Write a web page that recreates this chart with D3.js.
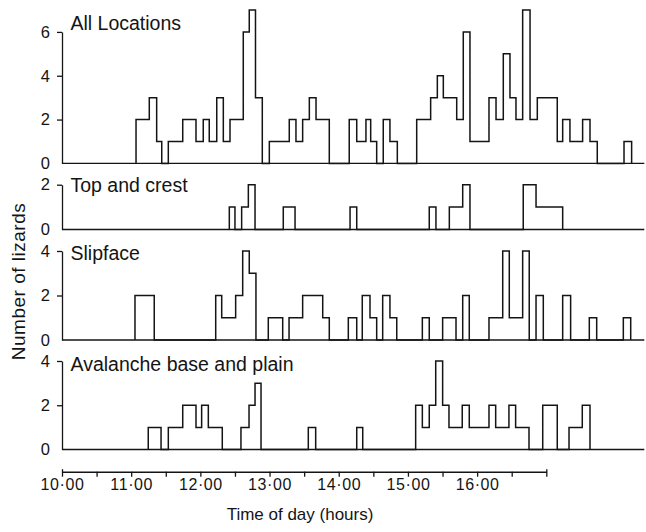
<!DOCTYPE html>
<html>
<head>
<meta charset="utf-8">
<script src="https://cdn.jsdelivr.net/npm/d3@7"></script>
<style>
  html, body { margin: 0; padding: 0; background: #fff; }
  svg { display: block; font-family: "Liberation Sans", Arial, sans-serif; }
</style>
</head>
<body>
<svg id="chart" width="646" height="532"></svg>
<script>
// Each series is a step histogram: time (minutes after 10:00) at which a step starts,
// and the number of lizards counted from that time until the next step.
const allTimes = [64.2, 75.7, 82.1, 86.5, 92.2, 104.7, 116.2, 122.5, 127.7, 134.2, 139.9, 145.7,
  157.2, 162.4, 167.8, 173.7, 179.8, 197.1, 202.9, 208.7, 214.5, 220.3, 231.8, 249.1, 255.6,
  263.6, 267.7, 272.9, 278.6, 284.4, 290.8, 307.6, 319.7, 325.5, 330.7, 342.3, 348.0, 353.8,
  370.3, 376.4, 382.7, 388.5, 393.7, 399.5, 405.9, 412.2, 429.5, 434.2, 440.5, 451.5, 457.9,
  464.2, 487.4, 494.0];
const allCounts = [2, 3, 1, 0, 1, 2, 1, 2, 1, 3, 1, 2,
  6, 7, 3, 0, 1, 2, 1, 2, 3, 2, 0, 2, 1,
  2, 1, 0, 2, 1, 0, 2, 3, 4, 3, 2, 6, 1,
  3, 2, 5, 3, 2, 7, 2, 3, 1, 2, 1, 2, 1,
  0, 1, 0];

const crestTimes = [145.1, 150.0, 155.8, 161.6, 167.4, 191.9, 202.1, 249.8, 255.6, 318.5, 324.3,
  335.9, 347.5, 353.8, 400.0, 411.1, 434.2];
const crestCounts = [1, 0, 1, 2, 0, 1, 0, 1, 0, 1, 0, 1, 2, 0, 2, 1, 0];

const slipTimes = [63.3, 80.0, 133.3, 138.5, 150.6, 156.7, 162.4, 168.2, 178.9, 191.4, 196.9,
  208.7, 226.1, 231.8, 248.3, 255.6, 260.4, 267.1, 272.9, 278.1, 284.4, 290.3, 312.5, 318.5,
  330.1, 341.7, 347.5, 353.2, 370.3, 382.2, 387.9, 399.5, 405.2, 411.1, 417.4, 434.2, 441.1,
  457.3, 463.7, 486.8, 493.2];
const slipCounts = [2, 0, 2, 1, 2, 4, 3, 0, 1, 0, 1,
  2, 1, 0, 1, 0, 2, 1, 0, 2, 1, 0, 1, 0,
  1, 0, 2, 0, 1, 4, 1, 4, 0, 2, 0, 2, 0,
  1, 0, 1, 0];

const baseTimes = [74.8, 85.9, 92.2, 104.7, 116.2, 121.1, 126.9, 139.0, 155.2, 162.2, 167.4,
  172.6, 213.6, 220.0, 255.6, 260.8, 306.7, 312.5, 318.5, 324.1, 330.1, 335.6, 347.1, 353.2,
  370.3, 376.1, 387.6, 393.4, 405.0, 416.9, 429.5, 439.7, 451.2, 457.9];
const baseCounts = [1, 0, 1, 2, 1, 2, 1, 0, 1, 2, 3,
  0, 1, 0, 1, 0, 2, 1, 2, 4, 2, 1, 2, 1,
  2, 1, 2, 1, 0, 2, 0, 1, 2, 0];

const panelNames = ["All Locations", "Top and crest", "Slipface", "Avalanche base and plain"];
const panelTicks = [[0, 2, 4, 6], [0, 2], [0, 2, 4], [0, 2, 4]];
const panelMax = [7, 2, 4, 4];

const xTickMinutes = d3.range(0, 421, 30);
const hourLabels = ["10·00", "11·00", "12·00", "13·00", "14·00", "15·00", "16·00"];
const observationEnd = 505;   // minutes after 10:00 where the record line stops
const xTitle = "Time of day (hours)";
const yTitle = "Number of lizards";

// ---- layout ----
const svg = d3.select("#chart");
const ink = "#141414";
const x = d3.scaleLinear().domain([0, 420]).range([62, 546.3]);

// vertical placement of each panel: zero line, top of its value range, label baseline
const frames = [
  { zero: 163.4, top: 10.0, labelY: 29.5 },
  { zero: 229.5, top: 184.7, labelY: 192 },
  { zero: 340.0, top: 251.0, labelY: 259.5 },
  { zero: 449.5, top: 361.0, labelY: 371 }
];

const series = [
  [allTimes, allCounts],
  [crestTimes, crestCounts],
  [slipTimes, slipCounts],
  [baseTimes, baseCounts]
];

series.forEach(([times, counts], i) => {
  const f = frames[i];
  const y = d3.scaleLinear().domain([0, panelMax[i]]).range([f.zero, f.top]);
  const g = svg.append("g");

  // zero line for the whole observation period
  g.append("line")
    .attr("x1", x(0)).attr("x2", x(observationEnd))
    .attr("y1", y(0)).attr("y2", y(0))
    .attr("stroke", ink).attr("stroke-width", 1.3);

  // step outline of the counts
  const pts = [[times[0], 0]].concat(times.map((t, k) => [t, counts[k]]));
  const line = d3.line()
    .x(d => x(d[0])).y(d => y(d[1]))
    .curve(d3.curveStepAfter);
  g.append("path")
    .attr("d", line(pts))
    .attr("fill", "none")
    .attr("stroke", ink)
    .attr("stroke-width", 1.5)
    .attr("stroke-linejoin", "miter");

  // y axis, running from zero up to its highest labelled tick
  const ticks = panelTicks[i];
  const last = ticks[ticks.length - 1];
  const axisScale = y.copy().domain([0, last]).range([y(0), y(last)]);
  const ax = g.append("g")
    .attr("transform", `translate(${x(0)},0)`)
    .call(d3.axisLeft(axisScale).tickValues(ticks).tickSize(5).tickSizeOuter(0).tickPadding(7)
      .tickFormat(d3.format("d")));
  ax.select(".domain").attr("stroke", ink).attr("stroke-width", 1.3);
  ax.selectAll(".tick line").attr("stroke", ink).attr("stroke-width", 1.3)
    .filter(d => d === 0).remove();
  ax.selectAll(".tick text")
    .attr("fill", ink)
    .style("font-family", "'Liberation Sans', Arial, sans-serif")
    .style("font-size", "16.5px");

  // panel title
  g.append("text")
    .attr("x", 70.5).attr("y", f.labelY)
    .attr("fill", ink)
    .style("font-size", "19.5px")
    .text(panelNames[i]);
});

// ---- time axis ----
const xa = svg.append("g")
  .attr("transform", "translate(0,471.7)")
  .call(d3.axisBottom(x).tickValues(xTickMinutes).tickSize(5).tickSizeOuter(0)
    .tickFormat(d => (d % 60 === 0 && d / 60 < hourLabels.length) ? hourLabels[d / 60] : ""));
xa.select(".domain").attr("stroke", ink).attr("stroke-width", 1.4);
xa.selectAll(".tick line").attr("stroke", ink).attr("stroke-width", 1.3)
  .attr("y1", d => (d === 0 || d === 420) ? -2.5 : 0);
xa.selectAll(".tick text")
  .attr("fill", ink)
  .attr("y", 18.3).attr("dy", 0)
  .style("font-family", "'Liberation Sans', Arial, sans-serif")
  .style("font-size", "16px")
  .style("letter-spacing", "0.6px");

svg.append("text")
  .attr("x", 300).attr("y", 519.5)
  .attr("text-anchor", "middle")
  .attr("fill", ink)
  .style("font-size", "17px")
  .text(xTitle);

svg.append("text")
  .attr("transform", "translate(25,281.5) rotate(-90)")
  .attr("text-anchor", "middle")
  .attr("fill", ink)
  .style("font-size", "19px")
  .style("letter-spacing", "0.5px")
  .text(yTitle);
</script>
</body>
</html>
